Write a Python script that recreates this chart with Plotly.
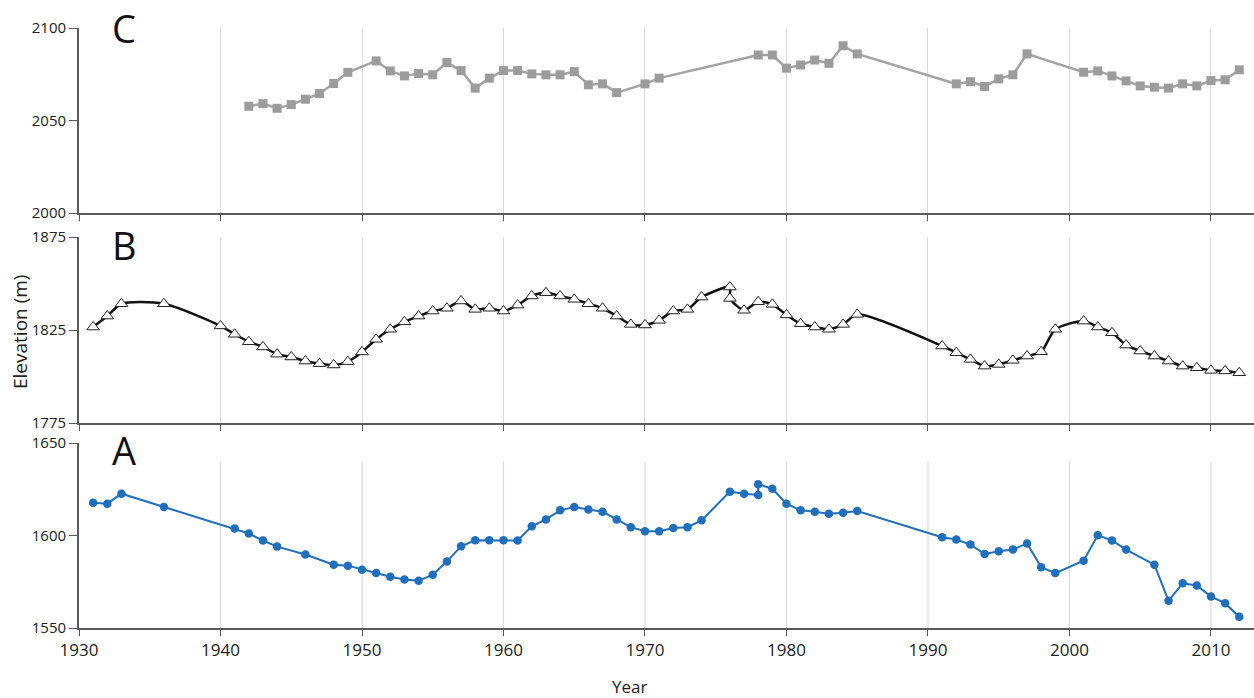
import plotly.graph_objects as go

# ---- Data ----
c_years = [1942, 1943, 1944, 1945, 1946, 1947, 1948, 1949, 1951, 1952,
           1953, 1954, 1955, 1956, 1957, 1958, 1959, 1960, 1961, 1962,
           1963, 1964, 1965, 1966, 1967, 1968, 1970, 1971, 1978, 1979,
           1980, 1981, 1982, 1983, 1984, 1985, 1992, 1993, 1994, 1995,
           1996, 1997, 2001, 2002, 2003, 2004, 2005, 2006, 2007, 2008,
           2009, 2010, 2011, 2012]
c_elev = [2057.7, 2059.1, 2056.6, 2058.6, 2061.5, 2064.6, 2070.0, 2076.0, 2082.2, 2076.8,
          2074.1, 2075.4, 2074.7, 2081.3, 2077.0, 2067.5, 2072.9, 2077.0, 2077.0, 2075.2,
          2074.7, 2074.7, 2076.4, 2069.3, 2069.8, 2065.1, 2069.8, 2072.9, 2085.4, 2085.4,
          2078.3, 2080.0, 2082.7, 2080.9, 2090.4, 2086.0, 2069.8, 2071.0, 2068.4, 2072.5,
          2074.7, 2086.0, 2076.1, 2076.8, 2074.1, 2071.4, 2068.7, 2068.0, 2067.5, 2069.8,
          2068.7, 2071.6, 2072.0, 2077.4]

b_years = [1931, 1932, 1933, 1936, 1940, 1941, 1942, 1943, 1944, 1945,
           1946, 1947, 1948, 1949, 1950, 1951, 1952, 1953, 1954, 1955,
           1956, 1957, 1958, 1959, 1960, 1961, 1962, 1963, 1964, 1965,
           1966, 1967, 1968, 1969, 1970, 1971, 1972, 1973, 1974, 1976,
           1976, 1977, 1978, 1979, 1980, 1981, 1982, 1983, 1984, 1985,
           1991, 1992, 1993, 1994, 1995, 1996, 1997, 1998, 1999, 2001,
           2002, 2003, 2004, 2005, 2006, 2007, 2008, 2009, 2010, 2011,
           2012]
b_elev = [1826.6, 1832.5, 1839.1, 1839.1, 1827.2, 1822.7, 1818.7, 1815.9, 1812.0, 1810.5,
          1808.3, 1806.9, 1806.2, 1808.0, 1813.2, 1820.0, 1825.4, 1829.4, 1832.5, 1835.2,
          1836.7, 1840.6, 1836.1, 1836.7, 1835.2, 1838.4, 1843.3, 1845.0, 1843.3, 1841.5,
          1839.1, 1836.7, 1832.5, 1828.0, 1827.7, 1830.2, 1835.2, 1836.1, 1842.7, 1848.1,
          1842.0, 1835.6, 1840.2, 1838.8, 1833.1, 1828.4, 1826.6, 1825.4, 1828.0, 1833.4,
          1816.4, 1812.8, 1809.2, 1805.6, 1806.5, 1808.7, 1811.0, 1813.3, 1825.4, 1829.8,
          1826.6, 1823.5, 1816.9, 1813.7, 1811.0, 1808.3, 1805.6, 1804.7, 1803.3, 1803.0,
          1802.0]

a_years = [1931, 1932, 1933, 1936, 1941, 1942, 1943, 1944, 1946, 1948,
           1949, 1950, 1951, 1952, 1953, 1954, 1955, 1956, 1957, 1958,
           1959, 1960, 1961, 1962, 1963, 1964, 1965, 1966, 1967, 1968,
           1969, 1970, 1971, 1972, 1973, 1974, 1976, 1977, 1978, 1978,
           1979, 1980, 1981, 1982, 1983, 1984, 1985, 1991, 1992, 1993,
           1994, 1995, 1996, 1997, 1998, 1999, 2001, 2002, 2003, 2004,
           2006, 2007, 2008, 2009, 2010, 2011, 2012]
a_elev = [1617.7, 1617.2, 1622.6, 1615.4, 1603.8, 1601.1, 1597.3, 1594.0, 1589.7, 1584.2,
          1583.7, 1581.5, 1579.7, 1577.7, 1576.2, 1575.5, 1578.8, 1586.0, 1594.2, 1597.4,
          1597.4, 1597.4, 1597.3, 1605.0, 1608.7, 1613.6, 1615.4, 1614.1, 1612.8, 1608.7,
          1604.5, 1602.3, 1602.3, 1604.1, 1604.5, 1608.2, 1623.7, 1622.6, 1621.9, 1627.7,
          1625.3, 1617.2, 1613.6, 1612.8, 1611.7, 1612.3, 1613.2, 1599.1, 1597.8, 1595.1,
          1590.0, 1591.5, 1592.4, 1595.7, 1582.8, 1579.7, 1586.4, 1600.2, 1597.3, 1592.4,
          1584.2, 1564.7, 1574.2, 1573.0, 1567.0, 1563.4, 1556.1]

x_ticks = [1930, 1940, 1950, 1960, 1970, 1980, 1990, 2000, 2010]
c_ticks = [2000, 2050, 2100]
b_ticks = [1775, 1825, 1875]
a_ticks = [1550, 1600, 1650]
panel_labels = ["C", "B", "A"]

# ---- Styles ----
FONT = "Open Sans"
AXIS_COL = "#5a5a5a"
GRID_COL = "#d9d9d9"
X_RANGE = [1930, 2013.04]

fig = go.Figure()

fig.add_trace(go.Scatter(
    x=c_years, y=c_elev, xaxis="x", yaxis="y", mode="lines+markers",
    line=dict(color="#a3a3a3", width=2.5),
    marker=dict(symbol="square", size=9, color="#9c9c9c"),
    showlegend=False))

fig.add_trace(go.Scatter(
    x=b_years, y=b_elev, xaxis="x2", yaxis="y2", mode="lines+markers",
    line=dict(color="#111111", width=2.5, shape="spline", smoothing=0.7),
    marker=dict(symbol="triangle-up", size=11, color="white",
                line=dict(color="#222222", width=1)),
    showlegend=False))

fig.add_trace(go.Scatter(
    x=a_years, y=a_elev, xaxis="x3", yaxis="y3", mode="lines+markers",
    line=dict(color="#1f6fbd", width=2),
    marker=dict(symbol="circle", size=8.5, color="#1f6fbd"),
    showlegend=False))

top_px, bot_px, H = 28, 628, 698
plot_h = bot_px - top_px


def dom(p_top, p_bot):
    return [(bot_px - p_bot) / plot_h, (bot_px - p_top) / plot_h]


def xaxis(anchor, labels, grid):
    return dict(range=X_RANGE, anchor=anchor, tickvals=x_ticks,
                showticklabels=labels, ticks="outside", ticklen=6,
                tickcolor=AXIS_COL, tickwidth=1.2,
                showline=True, linecolor=AXIS_COL, linewidth=1.8,
                showgrid=grid, gridcolor=GRID_COL, gridwidth=1.2,
                zeroline=False, tickfont=dict(family=FONT, size=17, color="#222"))


def yaxis(anchor, rng, ticks, d):
    return dict(range=rng, anchor=anchor, domain=d, tickvals=ticks,
                ticks="outside", ticklen=8, tickcolor=AXIS_COL, tickwidth=1.2,
                showline=True, linecolor=AXIS_COL, linewidth=1.8,
                showgrid=False, zeroline=False,
                tickfont=dict(family=FONT, size=15, color="#222"))


layout = dict(
    width=1254, height=698,
    margin=dict(l=79, r=0, t=top_px, b=H - bot_px),
    paper_bgcolor="white", plot_bgcolor="white",
    xaxis=xaxis("y", False, True),
    xaxis2=xaxis("y2", False, True),
    xaxis3=xaxis("y3", True, False),
    yaxis=yaxis("x", [2000, 2100], c_ticks, dom(28, 213)),
    yaxis2=yaxis("x2", [1775, 1875], b_ticks, dom(237, 423)),
    yaxis3=yaxis("x3", [1550, 1650], a_ticks, dom(443, 628)),
)
fig.update_layout(**layout)

# Panel A gridlines stop below its label band
shapes = []
for xv in x_ticks[1:]:
    shapes.append(dict(type="line", xref="x3", yref="y3", x0=xv, x1=xv,
                       y0=1550, y1=1640, layer="below",
                       line=dict(color=GRID_COL, width=1.2)))
fig.update_layout(shapes=shapes)

# Panel letters
label_y_px = [28, 245, 450]
annotations = []
for lab, py in zip(panel_labels, label_y_px):
    annotations.append(dict(text=lab, xref="paper", yref="paper",
                            x=(124 - 79) / 1175, y=(bot_px - py) / plot_h,
                            xanchor="center", yanchor="middle", showarrow=False,
                            font=dict(family=FONT, size=38, color="#111")))
annotations.append(dict(text="Elevation (m)", xref="paper", yref="paper",
                        x=(20 - 79) / 1175, y=(bot_px - 332) / plot_h,
                        textangle=-90, xanchor="center", yanchor="middle",
                        showarrow=False, font=dict(family=FONT, size=19, color="#222")))
annotations.append(dict(text="Year", xref="paper", yref="paper",
                        x=(629 - 79) / 1175, y=(bot_px - 686) / plot_h,
                        xanchor="center", yanchor="middle", showarrow=False,
                        font=dict(family=FONT, size=17, color="#222")))
fig.update_layout(annotations=annotations)

fig.write_html("out.html",
               config={"displayModeBar": False},
               post_script="document.body.style.margin='0';"
                           "document.body.style.overflow='hidden';")
